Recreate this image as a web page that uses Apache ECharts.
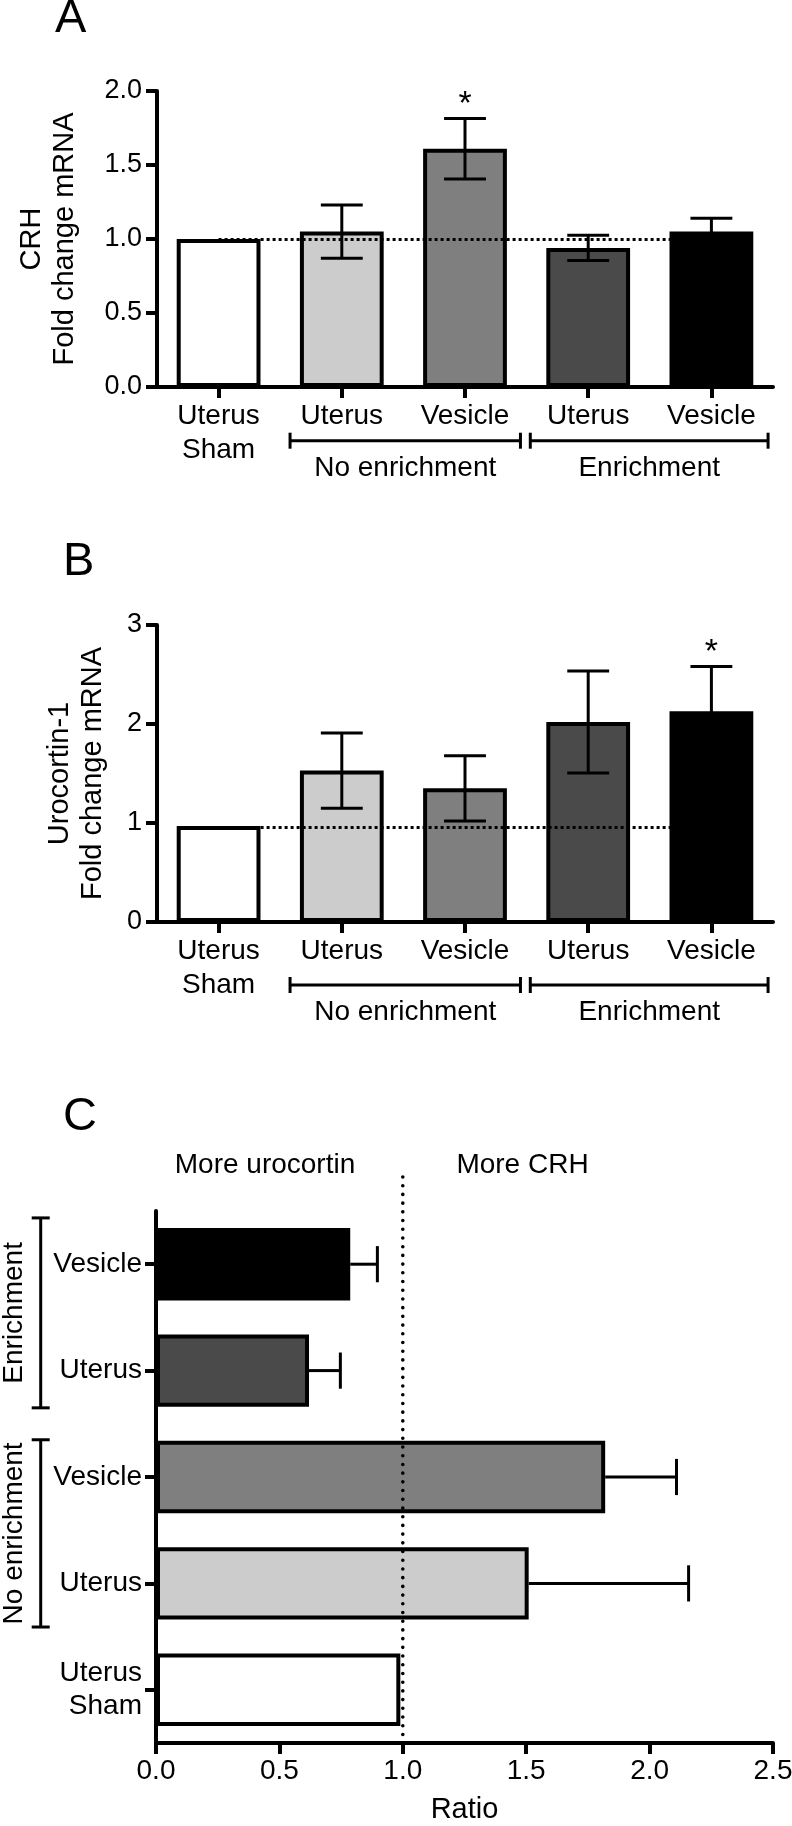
<!DOCTYPE html>
<html><head><meta charset="utf-8">
<script src="https://cdn.jsdelivr.net/npm/echarts@6/dist/echarts.min.js"></script>
<style>html,body{margin:0;padding:0;background:#fff}#c{width:792px;height:1826px}</style>
</head><body><div id="c"></div>
<script>
// ---------------- data ----------------
const groupKeys = ['sham', 'ne_ut', 'ne_ves', 'e_ut', 'e_ves'];
const groupLabels = ['Uterus\nSham', 'Uterus', 'Vesicle', 'Uterus', 'Vesicle'];
const barColors = ['#ffffff', '#cccccc', '#7f7f7f', '#4a4a4a', '#000000'];

const crhMean = [1.00, 1.05, 1.61, 0.94, 1.05];
const crhSem  = [0, 0.18, 0.205, 0.085, 0.09];
const crhSig  = ['', '', '*', '', ''];

const ucnMean = [0.97, 1.53, 1.35, 2.02, 2.13];
const ucnSem  = [0, 0.38, 0.33, 0.515, 0.45];
const ucnSig  = ['', '', '', '', '*'];

const ratioMean = [0.99, 1.51, 1.82, 0.62, 0.787];
const ratioSem  = [0, 0.648, 0.289, 0.127, 0.11];

const brackets = [{name: 'No enrichment', from: 1, to: 2}, {name: 'Enrichment', from: 3, to: 4}];
const refLineA = 1.0, refLineB = 0.96, refLineC = 1.0;
const sideLabels = ['More urocortin', 'More CRH'];
const panelLetters = ['A', 'B', 'C'];

// ---------------- styling ----------------
const FF = '"Liberation Sans", Arial, Helvetica, sans-serif';
const font = (s) => s + 'px ' + FF;
const chart = echarts.init(document.getElementById('c'), null, {renderer: 'canvas', width: 792, height: 1826});

const axisLine = {show: true, onZero: false, lineStyle: {color: '#000', width: 4}};
const axisTick = {show: true, length: 11, lineStyle: {color: '#000', width: 4}};
const catTick = {show: true, alignWithLabel: true, length: 11, lineStyle: {color: '#000', width: 4}};
const labelFmt = (v) => groupLabels[groupKeys.indexOf(v)];

function barSeries(xi, yi, mean) {
  return {
    type: 'bar', xAxisIndex: xi, yAxisIndex: yi, barWidth: '68%', z: 2, silent: true,
    data: mean.map((v, i) => ({value: v, itemStyle: {color: barColors[i], borderColor: '#000', borderWidth: 4}}))
  };
}

function errSeries(xi, yi, mean, sem, sig, horiz, refLine) {
  const s = {
    type: 'custom', xAxisIndex: xi, yAxisIndex: yi, z: 3, silent: true, clip: false,
    data: horiz ? mean.map((m, i) => [m, i, sem[i]]) : mean.map((m, i) => [i, m, sem[i]]),
    encode: {x: 0, y: 1},
    renderItem: function (params, api) {
      const children = [];
      const st = {stroke: '#000', lineWidth: 3, fill: null};
      if (!horiz) {
        const i = api.value(0), m = api.value(1), e = api.value(2);
        const band = api.size([1, 0])[0];
        const cw = band * 0.34 / 2;
        const top = api.coord([i, m + e]), bot = api.coord([i, m - e]);
        if (e > 0) {
          children.push({type: 'line', shape: {x1: top[0], y1: top[1], x2: bot[0], y2: bot[1]}, style: st});
          children.push({type: 'line', shape: {x1: top[0] - cw, y1: top[1], x2: top[0] + cw, y2: top[1]}, style: st});
          children.push({type: 'line', shape: {x1: bot[0] - cw, y1: bot[1], x2: bot[0] + cw, y2: bot[1]}, style: st});
        }
        const sg = sig ? sig[params.dataIndex] : '';
        if (sg) {
          children.push({type: 'text', x: top[0], y: top[1] - 14,
            style: {text: sg, font: font(34), fill: '#000', align: 'center', textAlign: 'center', verticalAlign: 'middle', textVerticalAlign: 'middle'}});
        }
      } else {
        const m = api.value(0), i = api.value(1), e = api.value(2);
        const band = api.size([0, 1])[1];
        const ch = band * 0.34 / 2;
        const a = api.coord([m, i]), b = api.coord([m + e, i]);
        if (e > 0) {
          children.push({type: 'line', shape: {x1: a[0], y1: a[1], x2: b[0], y2: b[1]}, style: st});
          children.push({type: 'line', shape: {x1: b[0], y1: b[1] - ch, x2: b[0], y2: b[1] + ch}, style: st});
        }
      }
      return {type: 'group', children: children};
    }
  };
  if (refLine !== undefined) {
    s.markLine = {
      silent: true, symbol: 'none', z: 6, label: {show: false}, animation: false,
      lineStyle: {color: '#000', width: 3, type: [3, 3]},
      data: [[{coord: [0, refLine]}, {coord: [groupKeys.length - 1, refLine]}]]
    };
  }
  return s;
}

const option = {
  animation: false,
  backgroundColor: '#fff',
  textStyle: {fontFamily: FF, color: '#000'},
  grid: [
    {left: 157, top: 91, width: 616, height: 296, containLabel: false, outerBoundsMode: 'none'},
    {left: 157, top: 625, width: 616, height: 297, containLabel: false, outerBoundsMode: 'none'},
    {left: 156, top: 1211, width: 617, height: 532, containLabel: false, outerBoundsMode: 'none'}
  ],
  xAxis: [
    {gridIndex: 0, type: 'category', data: groupKeys, axisLine: axisLine, axisTick: catTick, splitLine: {show: false},
     axisLabel: {formatter: labelFmt, interval: 0, fontSize: 28, lineHeight: 34, margin: 12, color: '#000', fontFamily: FF}},
    {gridIndex: 1, type: 'category', data: groupKeys, axisLine: axisLine, axisTick: catTick, splitLine: {show: false},
     axisLabel: {formatter: labelFmt, interval: 0, fontSize: 28, lineHeight: 34, margin: 12, color: '#000', fontFamily: FF}},
    {gridIndex: 2, type: 'value', min: 0, max: 2.5, interval: 0.5, axisLine: axisLine, axisTick: axisTick, splitLine: {show: false},
     axisLabel: {formatter: (v) => v.toFixed(1), fontSize: 28, margin: 14, color: '#000', fontFamily: FF},
     name: 'Ratio', nameLocation: 'middle', nameGap: 52, nameTextStyle: {fontSize: 29, color: '#000', fontFamily: FF}}
  ],
  yAxis: [
    {gridIndex: 0, type: 'value', min: 0, max: 2, interval: 0.5, axisLine: axisLine, axisTick: axisTick, splitLine: {show: false},
     axisLabel: {formatter: (v) => v.toFixed(1), fontSize: 27, margin: 15, color: '#000', fontFamily: FF},
     name: 'CRH\nFold change mRNA', nameLocation: 'middle', nameGap: 76,
     nameTextStyle: {fontSize: 29, lineHeight: 33, color: '#000', fontFamily: FF}},
    {gridIndex: 1, type: 'value', min: 0, max: 3, interval: 1, axisLine: axisLine, axisTick: axisTick, splitLine: {show: false},
     axisLabel: {fontSize: 27, margin: 15, color: '#000', fontFamily: FF},
     name: 'Urocortin-1\nFold change mRNA', nameLocation: 'middle', nameGap: 48,
     nameTextStyle: {fontSize: 29, lineHeight: 33, color: '#000', fontFamily: FF}},
    {gridIndex: 2, type: 'category', data: groupKeys, axisLine: axisLine, axisTick: catTick, splitLine: {show: false},
     axisLabel: {formatter: labelFmt, interval: 0, fontSize: 28, lineHeight: 33, margin: 14, color: '#000', fontFamily: FF}}
  ],
  series: [
    barSeries(0, 0, crhMean),
    errSeries(0, 0, crhMean, crhSem, crhSig, false, refLineA),
    barSeries(1, 1, ucnMean),
    errSeries(1, 1, ucnMean, ucnSem, ucnSig, false, refLineB),
    barSeries(2, 2, ratioMean),
    errSeries(2, 2, ratioMean, ratioSem, null, true)
  ]
};
chart.setOption(option);

// ---------------- annotations (brackets, letters, labels) ----------------
const G = [];
const LS = {stroke: '#000', lineWidth: 3, fill: null};
function line(x1, y1, x2, y2, style) { G.push({type: 'line', silent: true, z: 10, shape: {x1, y1, x2, y2}, style: style || LS}); }
function text(t, x, y, size, opts) {
  G.push(Object.assign({type: 'text', silent: true, z: 10, x: x, y: y,
    style: {text: t, font: font(size), fill: '#000', align: opts.align, textAlign: opts.align,
            verticalAlign: opts.va, textVerticalAlign: opts.va}}, opts.extra || {}));
}

// horizontal brackets under panels A and B
const padAB = [[0.42, 0.45], [0.47, 0.46]];
[[0, 440.7, 468], [1, 985, 1012]].forEach(([ax, yLine, yText]) => {
  const px = (k) => chart.convertToPixel({xAxisIndex: ax}, groupKeys[k]);
  const band = px(1) - px(0);
  brackets.forEach((b, k) => {
    const x1 = px(b.from) - padAB[k][0] * band, x2 = px(b.to) + padAB[k][1] * band;
    line(x1, yLine, x2, yLine);
    line(x1, yLine - 8, x1, yLine + 8);
    line(x2, yLine - 8, x2, yLine + 8);
    text(b.name, (x1 + x2) / 2, yText, 28, {align: 'center', va: 'middle'});
  });
});

// vertical brackets left of panel C
const padC = [[0.41, 0.35], [0.35, 0.435]];
(function () {
  const py = (k) => chart.convertToPixel({yAxisIndex: 2}, groupKeys[k]);
  const band = Math.abs(py(1) - py(0));
  const xL = 40.7;
  brackets.forEach((b, k) => {
    const yTop = py(b.to) - padC[k][1] * band, yBot = py(b.from) + padC[k][0] * band;
    line(xL, yTop, xL, yBot);
    line(xL - 9, yTop, xL + 9, yTop);
    line(xL - 9, yBot, xL + 9, yBot);
    text(b.name, 14, (yTop + yBot) / 2, 28, {align: 'center', va: 'middle', extra: {rotation: Math.PI / 2}});
  });
  // vertical dotted reference line at ratio = 1
  const xr = chart.convertToPixel({xAxisIndex: 2}, refLineC);
  const yb = chart.convertToPixel({yAxisIndex: 2}, groupKeys[0]) + band / 2;
  line(xr, 1177, xr, yb, {stroke: '#000', lineWidth: 3.6, lineDash: [0.01, 8.7], lineCap: 'round', fill: null});
  text(sideLabels[0], 265, 1165, 28, {align: 'center', va: 'middle'});
  text(sideLabels[1], 522.5, 1165, 28, {align: 'center', va: 'middle'});
})();

// panel letters
text(panelLetters[0], 55, -4, 47, {align: 'left', va: 'top'});
text(panelLetters[1], 63, 539, 47, {align: 'left', va: 'top'});
text(panelLetters[2], 63, 1094, 47, {align: 'left', va: 'top'});

chart.setOption({graphic: {elements: G}});
</script>
</body></html>
